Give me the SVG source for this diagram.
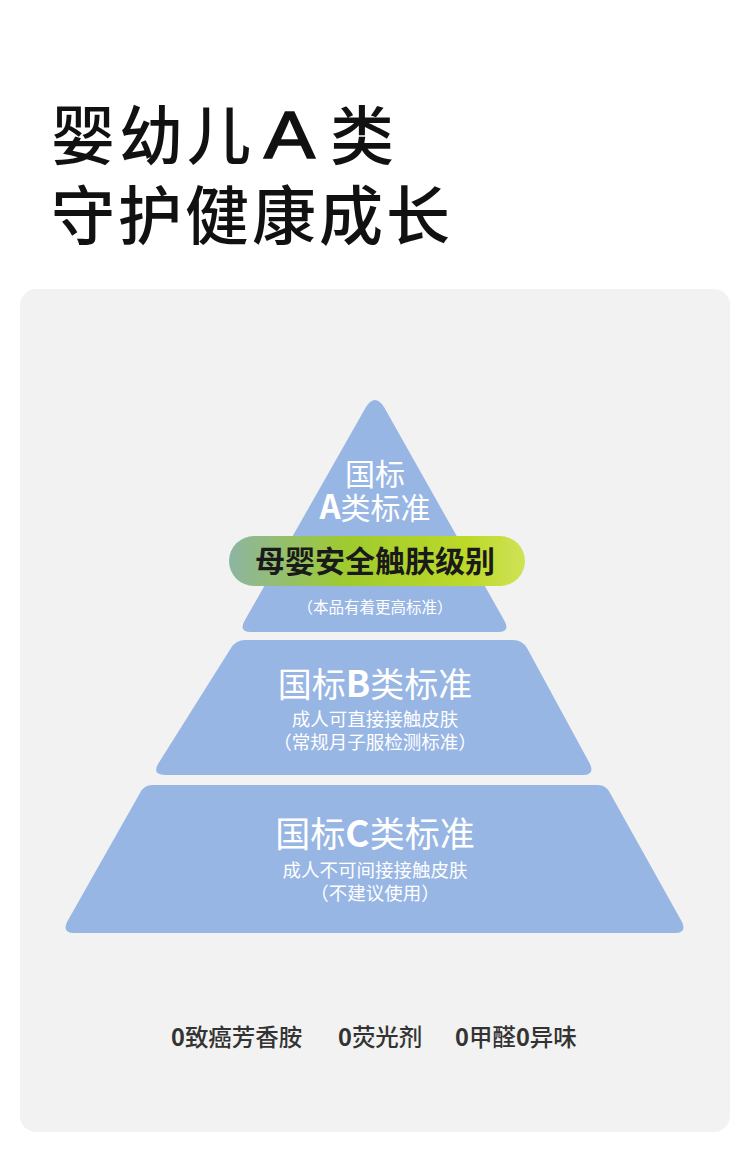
<svg xmlns="http://www.w3.org/2000/svg" width="750" height="1158" viewBox="0 0 750 1158">
<defs>
<style>
.cjk{font-family:"Noto Sans CJK SC","Noto Sans",sans-serif}
.w{fill:#ffffff}
.tier{fill:#98b6e4}
</style>
<linearGradient id="pill" x1="0" y1="0" x2="1" y2="0">
<stop offset="0" stop-color="#8cb5a2"/>
<stop offset="0.4" stop-color="#9fcb2e"/>
<stop offset="0.8" stop-color="#bcd928"/>
<stop offset="1" stop-color="#d0e257"/>
</linearGradient>
</defs>
<rect width="750" height="1158" fill="#ffffff"/>
<g id="title" class="cjk" font-size="64" font-weight="500" fill="#111111">
<text y="159"><tspan x="51">婴</tspan><tspan x="119">幼</tspan><tspan x="187">儿</tspan><tspan x="330">类</tspan></text>
<text x="264" y="158" font-family="Liberation Sans, Arial, sans-serif" font-size="66" font-weight="normal" stroke="#111111" stroke-width="1.6" textLength="51" lengthAdjust="spacingAndGlyphs">A</text>
<text x="51" y="239" letter-spacing="3">守护健康成长</text>
</g>
<rect id="panel" x="20" y="289" width="710" height="843" rx="16" fill="#f1f2f1"/>
<g id="tierA">
<path class="tier" d="M366,407 Q375,393 384,407 L504,620 Q511,632 498,632 L251,632 Q238,632 245,620 Z"/>
<text class="cjk w" x="375" y="485" font-size="30" text-anchor="middle">国标</text>
<text class="cjk w" x="375" y="519" font-size="30" text-anchor="middle"><tspan font-weight="bold" font-size="33">A</tspan>类标准</text>
<rect x="229" y="536" width="296" height="50" rx="25" fill="url(#pill)"/>
<text class="cjk" x="375" y="572" font-size="30" font-weight="bold" text-anchor="middle" fill="#1a1a1a">母婴安全触肤级别</text>
<text class="cjk w" x="375" y="613" font-size="15.5" text-anchor="middle">（本品有着更高标准）</text>
</g>
<g id="tierB">
<path class="tier" d="M245,640 L513,640 Q522,640 527,648 L590,764 Q595,775 583,775 L165,775 Q152,775 158,764 L231,648 Q236,640 245,640 Z"/>
<text class="cjk w" x="375" y="697" font-size="34" text-anchor="middle">国标<tspan font-weight="bold" font-size="36">B</tspan>类标准</text>
<text class="cjk w" x="375" y="726" font-size="18.5" text-anchor="middle">成人可直接接触皮肤</text>
<text class="cjk w" x="375" y="749" font-size="18.5" text-anchor="middle">（常规月子服检测标准）</text>
</g>
<g id="tierC">
<path class="tier" d="M152,785 L598,785 Q606,785 610,793 L682,922 Q687,933 675,933 L74,933 Q62,933 67,922 L140,793 Q144,785 152,785 Z"/>
<text class="cjk w" x="375" y="847" font-size="35" text-anchor="middle">国标<tspan font-weight="bold" font-size="37">C</tspan>类标准</text>
<text class="cjk w" x="375" y="877" font-size="18.5" text-anchor="middle">成人不可间接接触皮肤</text>
<text class="cjk w" x="375" y="900" font-size="18.5" text-anchor="middle">（不建议使用）</text>
</g>
<g id="claims" class="cjk" font-size="23.5" font-weight="500" fill="#333333">
<text x="171" y="1046"><tspan font-weight="bold">0</tspan>致癌芳香胺</text>
<text x="338" y="1046"><tspan font-weight="bold">0</tspan>荧光剂</text>
<text x="455" y="1046"><tspan font-weight="bold">0</tspan>甲醛<tspan font-weight="bold">0</tspan>异味</text>
</g>
</svg>
